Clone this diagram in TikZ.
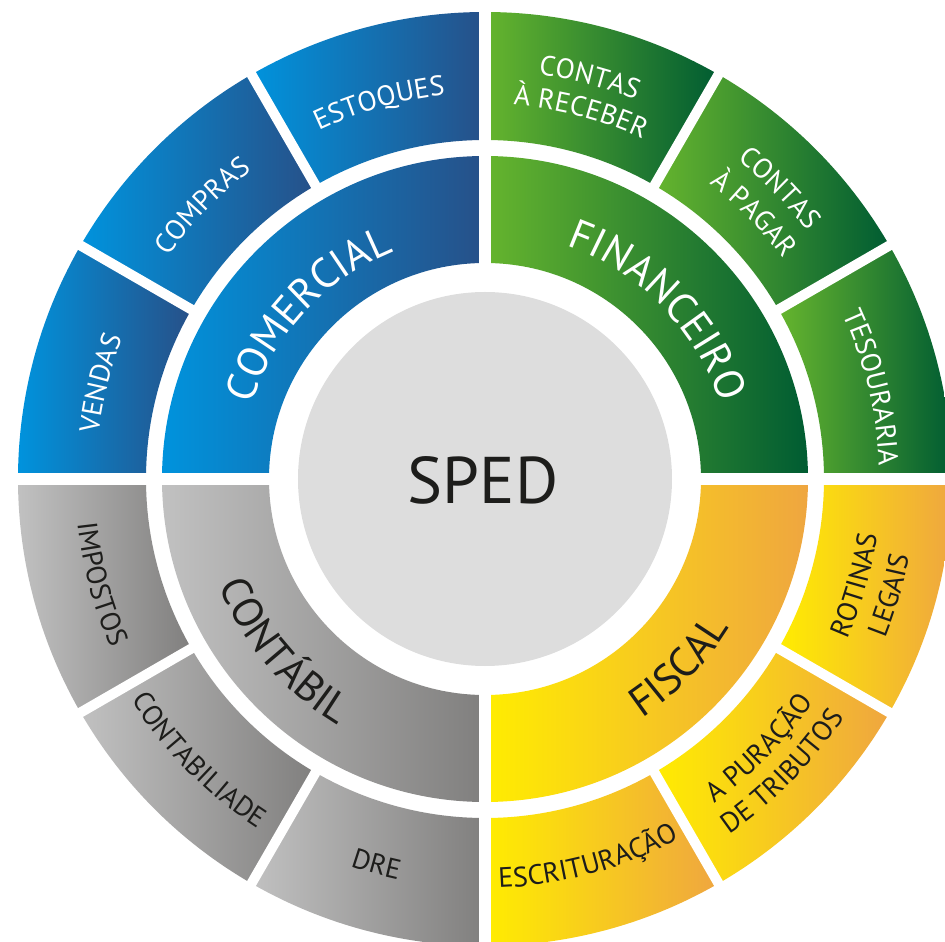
\documentclass[tikz,border=0pt]{standalone}
\usepackage{fontspec}
\setmainfont{PT Sans}
\usetikzlibrary{decorations.text}

\definecolor{blueL}{RGB}{0,147,221}
\definecolor{blueD}{RGB}{39,80,136}
\definecolor{greenL}{RGB}{102,181,46}
\definecolor{greenD}{RGB}{0,92,50}
\definecolor{grayL}{RGB}{193,193,193}
\definecolor{grayD}{RGB}{128,127,126}
\definecolor{yellowL}{RGB}{255,237,0}
\definecolor{yellowD}{RGB}{239,166,64}
\definecolor{core}{RGB}{221,221,221}
\definecolor{ink}{RGB}{29,29,27}

\newcommand{\midfont}{\fontsize{42}{44}\selectfont}
\newcommand{\outfont}{\fontsize{28}{30}\selectfont}

% piece of a ring: style, start angle, end angle, inner radius, outer radius
\newcommand{\ringpiece}[5]{%
    \path[#1] (#2:#4pt) arc[start angle = #2, end angle = #3, radius = #4pt]
        -- (#3:#5pt) arc[start angle = #3, end angle = #2, radius = #5pt] -- cycle;}

% text on an arc: colour, middle angle, baseline radius, text
\newcommand{\labelcw}[4]{%
    \path[decorate, decoration = {text along path, text align = center, text color = #1, text = {#4}}]
        ({#2+40}:#3pt) arc[start angle = {#2+40}, end angle = {#2-40}, radius = #3pt];}
\newcommand{\labelccw}[4]{%
    \path[decorate, decoration = {text along path, text align = center, text color = #1, text = {#4}}]
        ({#2-40}:#3pt) arc[start angle = {#2-40}, end angle = {#2+40}, radius = #3pt];}

\begin{document}
\begin{tikzpicture}[
                x = 1pt, y = 1pt,
                blueseg/.style = {left color = blueL, right color = blueD},
                greenseg/.style = {left color = greenL, right color = greenD},
                grayseg/.style = {left color = grayL, right color = grayD},
                yellowseg/.style = {left color = yellowL, right color = yellowD},
                gap/.style = {draw = white, line width = 12pt},
                cut/.style = {draw = white, line width = 10pt},
            ]
            \useasboundingbox (-485, -463) rectangle (460, 479);

            % middle ring
            \ringpiece{blueseg}{90}{180}{216}{323}
            \ringpiece{greenseg}{0}{90}{216}{323}
            \ringpiece{grayseg}{180}{270}{216}{323}
            \ringpiece{yellowseg}{270}{360}{216}{323}

            % outer ring
            \ringpiece{blueseg}{150}{180}{339}{467}
            \ringpiece{blueseg}{120}{150}{339}{467}
            \ringpiece{blueseg}{90}{120}{339}{467}
            \ringpiece{greenseg}{60}{90}{339}{467}
            \ringpiece{greenseg}{30}{60}{339}{467}
            \ringpiece{greenseg}{0}{30}{339}{467}
            \ringpiece{grayseg}{180}{210}{339}{467}
            \ringpiece{grayseg}{210}{240}{339}{467}
            \ringpiece{grayseg}{240}{270}{339}{467}
            \ringpiece{yellowseg}{270}{300}{339}{467}
            \ringpiece{yellowseg}{300}{330}{339}{467}
            \ringpiece{yellowseg}{330}{360}{339}{467}

            % white gaps
            \path[gap] (-480, 0) -- (480, 0);
            \path[gap] (0, -480) -- (0, 480);
            \path[cut] (30:335pt) -- (30:472pt);
            \path[cut] (60:335pt) -- (60:472pt);
            \path[cut] (120:335pt) -- (120:472pt);
            \path[cut] (150:335pt) -- (150:472pt);
            \path[cut] (210:335pt) -- (210:472pt);
            \path[cut] (240:335pt) -- (240:472pt);
            \path[cut] (300:335pt) -- (300:472pt);
            \path[cut] (330:335pt) -- (330:472pt);

            % centre
            \fill[core] (0, 0) circle[radius = 187pt];
            \node (sped) at (-2, -1) [text = ink, inner sep = 0pt] {\fontsize{66}{70}\selectfont SPED};

            % middle labels
            \labelcw{white}{137}{245}{|\midfont|COMERCIAL}
            \labelcw{white}{44.3}{247}{|\midfont|FINANCEIRO}
            \labelccw{ink}{220.5}{287}{|\midfont|CONTÁBIL}
            \labelccw{ink}{316}{286}{|\midfont|FISCAL}

            % outer labels
            \labelcw{white}{166}{389}{|\outfont|VENDAS}
            \labelcw{white}{136}{387}{|\outfont|COMPRAS}
            \labelcw{white}{105.7}{386}{|\outfont|ESTOQUES}
            \labelcw{white}{75.4}{408}{|\outfont|CONTAS}
            \labelcw{white}{75.4}{375}{|\outfont|À RECEBER}
            \labelcw{white}{44.6}{407}{|\outfont|CONTAS}
            \labelcw{white}{44.6}{371}{|\outfont|À PAGAR}
            \labelcw{white}{13.3}{394}{|\outfont|TESOURARIA}
            \labelccw{ink}{195.3}{410}{|\outfont|IMPOSTOS}
            \labelccw{ink}{224.5}{417}{|\outfont|CONTABILIADE}
            \labelccw{ink}{254.3}{410}{|\outfont|DRE}
            \labelccw{ink}{285.2}{409}{|\outfont|ESCRITURAÇÃO}
            \labelccw{ink}{315.5}{397}{|\outfont|A PURAÇÃO}
            \labelccw{ink}{315.5}{431}{|\outfont|DE TRIBUTOS}
            \labelccw{ink}{344}{396}{|\outfont|ROTINAS}
            \labelccw{ink}{344}{431}{|\outfont|LEGAIS}
        \end{tikzpicture}
\end{document}
